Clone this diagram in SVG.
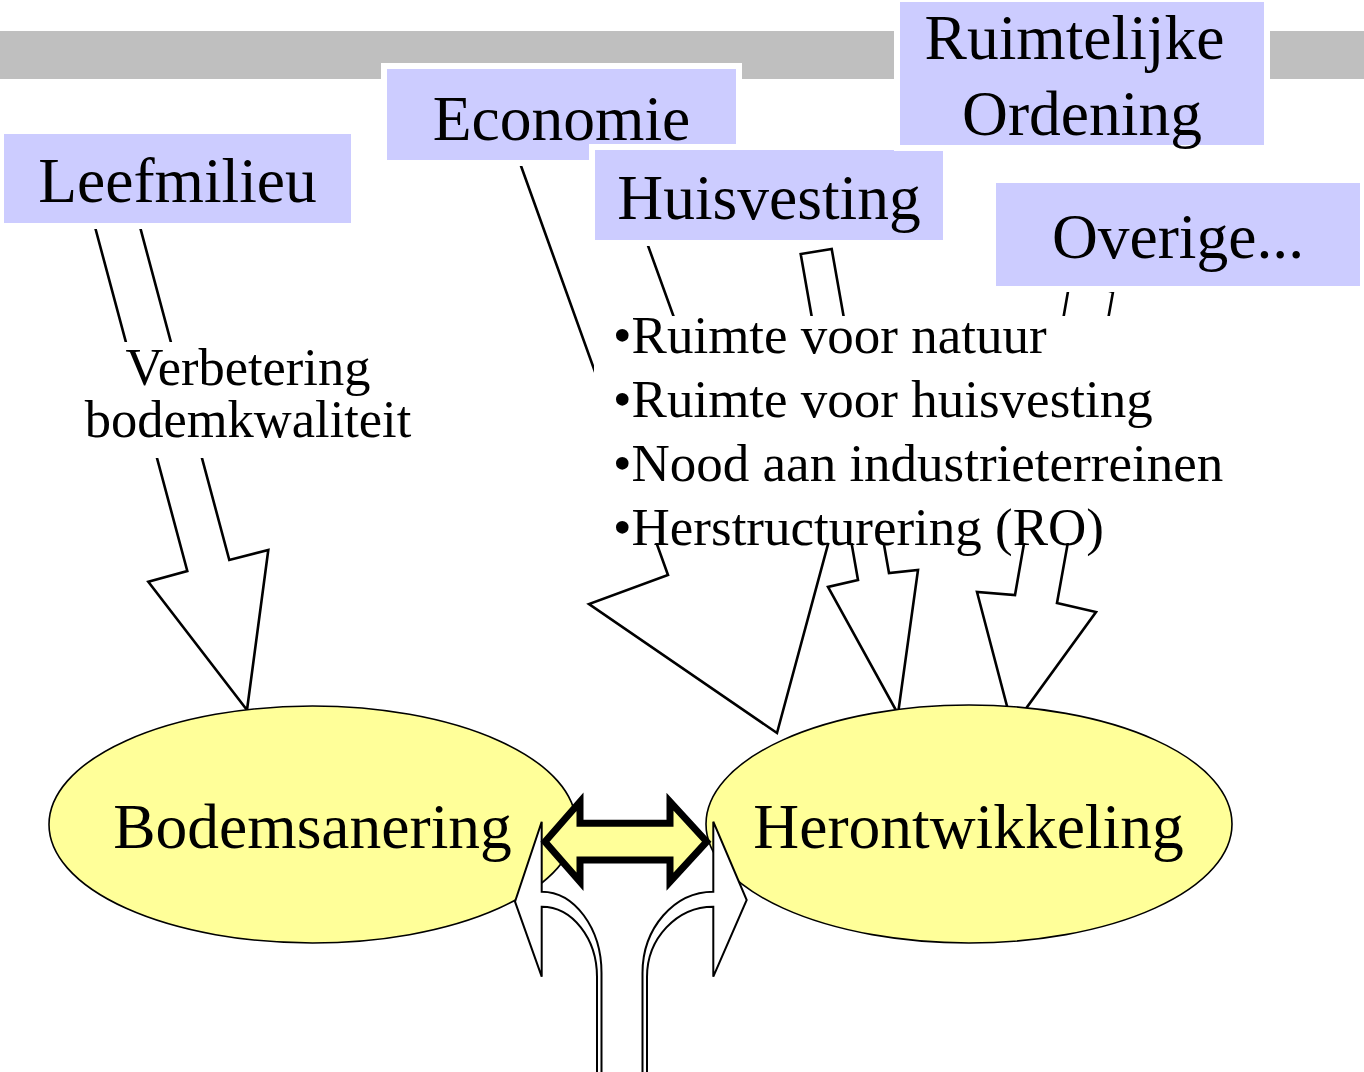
<svg xmlns="http://www.w3.org/2000/svg" width="1364" height="1072" viewBox="0 0 1364 1072">
<style>
.lbl{font-family:"Liberation Serif","Times New Roman",serif;fill:#000;}
.big{font-size:63.5px;text-anchor:middle;}
.mid{font-size:52.5px;text-anchor:middle;}
.lst{font-size:53px;}
.box{fill:#CCCCFF;stroke:#FFFFFF;stroke-width:6;}
.wbox{fill:#FFFFFF;stroke:none;}
.arr{fill:#FFFFFF;stroke:#000;stroke-width:2.6;stroke-linejoin:miter;}
.cur{fill:#FFFFFF;stroke:#000;stroke-width:2;}
.ell{fill:#FFFF99;stroke:#000;stroke-width:1.6;}
.dbl{fill:#FFFF99;stroke:#000;stroke-width:7;stroke-linejoin:miter;stroke-miterlimit:10;}
</style>
<rect x="0" y="0" width="1364" height="1072" fill="#FFFFFF"/>
<rect id="bar" x="0" y="31" width="1364" height="48" fill="#BFBFBF"/>

<g id="connectors">
  <polygon class="arr" points="91.8,215 187.3,571 148.3,581.7 247,710 268.3,550 229.3,560 133.8,203.7"/>
  <polygon class="arr" points="517.8,157 668,575 589,604 777,733 836,514.6 754.4,540 604.4,125"/>
  <polygon class="arr" points="800.7,254 858,580 828,587 898,714 918,570 889,573 831.7,249"/>
  <polygon class="arr" points="1070,280 1015,595 977,592 1012.5,727 1096,612 1057,603 1113,292"/>
</g>

<g id="verbetering">
  <rect class="wbox" x="78" y="342" width="340" height="116"/>
  <text class="lbl mid" x="248" y="385">Verbetering</text>
  <text class="lbl mid" x="248" y="437">bodemkwaliteit</text>
</g>

<g id="lijst">
  <rect class="wbox" x="594" y="316" width="646" height="227"/>
  <text class="lbl lst" x="613" y="353">•Ruimte voor natuur</text>
  <text class="lbl lst" x="613" y="417">•Ruimte voor huisvesting</text>
  <text class="lbl lst" x="613" y="481">•Nood aan industrieterreinen</text>
  <text class="lbl lst" x="613" y="545">•Herstructurering (RO)</text>
</g>

<g id="leefmilieu">
  <rect class="box" x="1" y="131" width="353" height="95"/>
  <text class="lbl big" x="177.5" y="202">Leefmilieu</text>
</g>
<g id="economie">
  <rect class="box" x="384" y="66" width="355" height="97"/>
  <text class="lbl big" x="561.5" y="140">Economie</text>
</g>
<g id="huisvesting">
  <rect class="box" x="592" y="147" width="354" height="96"/>
  <text class="lbl big" x="769" y="219">Huisvesting</text>
</g>
<g id="ruimtelijke-ordening">
  <rect class="box" x="897" y="-1" width="370" height="149"/>
  <text class="lbl big" x="1074.5" y="59">Ruimtelijke</text>
  <text class="lbl big" x="1082" y="135">Ordening</text>
</g>
<g id="overige">
  <rect class="box" x="993" y="180" width="370" height="109"/>
  <text class="lbl big" x="1178" y="258">Overige...</text>
</g>

<g id="bodemsanering">
  <ellipse class="ell" cx="312.5" cy="824.5" rx="263.5" ry="118.5"/>
  <text class="lbl big" x="312.5" y="848">Bodemsanering</text>
</g>
<g id="herontwikkeling">
  <ellipse class="ell" cx="969" cy="824" rx="263" ry="119"/>
  <text class="lbl big" x="968.5" y="848">Herontwikkeling</text>
</g>

<g id="links">
  <path class="cur" d="M541.7,891.7 L541.7,821.7 L515,901.7 L541.7,976.7 L541.7,906.7 C572.2,906.7 597,938.2 597,977 L597,1076 L601.5,1076 L601.5,973 C601.5,928.1 574.4,891.7 541.7,891.7 Z"/>
  <path class="cur" d="M713.3,891.7 L713.3,821.7 L746.7,900 L713.3,976.7 L713.3,906.7 C676.7,906.7 647,938.5 647,977 L647,1076 L642.5,1076 L642.5,973 C642.5,928.1 674.2,891.7 713.3,891.7 Z"/>
  <path class="dbl" d="M545,841.7 L580,801.7 L580,823.3 L670,823.3 L670,801.7 L706.7,841.7 L670,881.7 L670,860 L580,860 L580,881.7 Z"/>
</g>
</svg>
